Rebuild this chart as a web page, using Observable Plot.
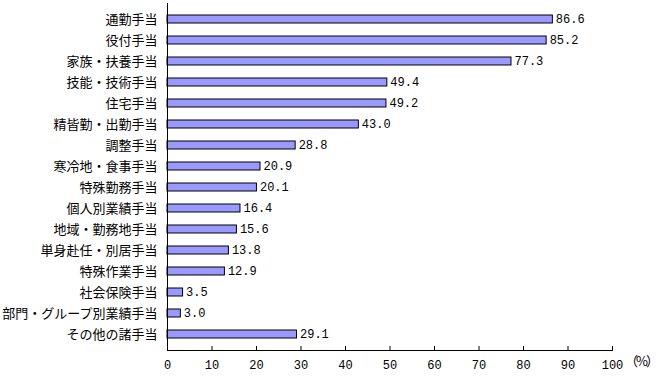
<!DOCTYPE html>
<html><head><meta charset="utf-8">
<script src="https://cdn.jsdelivr.net/npm/d3@7"></script>
<script src="https://cdn.jsdelivr.net/npm/@observablehq/plot@0.6"></script>
<style>body{margin:0;background:#fff;} #chart{position:relative;width:665px;height:376px;overflow:hidden;}
#unit{position:absolute;left:625px;top:351px;font:13px "Noto Sans CJK JP";letter-spacing:-2px;white-space:nowrap;}</style>
</head><body><div id="chart"></div>
<script>
const categories = ["通勤手当","役付手当","家族・扶養手当","技能・技術手当","住宅手当","精皆勤・出勤手当","調整手当","寒冷地・食事手当","特殊勤務手当","個人別業績手当","地域・勤務地手当","単身赴任・別居手当","特殊作業手当","社会保険手当","部門・グループ別業績手当","その他の諸手当"];
const values = [86.6,85.2,77.3,49.4,49.2,43.0,28.8,20.9,20.1,16.4,15.6,13.8,12.9,3.5,3.0,29.1];
const xTicks = [0,10,20,30,40,50,60,70,80,90,100];
const data = categories.map((c,i)=>({c, v: values[i]}));
const H = 376, mt = 3, mb = 26;
const plot = Plot.plot({
  width: 665, height: H,
  marginLeft: 167, marginRight: 53, marginTop: mt, marginBottom: mb,
  style: {fontFamily: "'Noto Sans CJK JP'", fontSize: "13px", background: "#fff", color: "#000"},
  x: {domain: [0,100], ticks: xTicks, label: null},
  y: {domain: categories, paddingInner: 0.62, paddingOuter: 0.32, label: null},
  marks: [
    Plot.barX(data, {x: "v", y: "c", fill: "#9999ff", stroke: "#000", strokeWidth: 1}),
    Plot.text(data, {x: "v", y: "c", text: d => d.v.toFixed(1), textAnchor: "start", dx: 3, fontFamily: "Liberation Mono", fontSize: 12}),
    Plot.tickX(xTicks, {x: d => d, stroke: "#000", insetTop: H - mt - mb - 4}),
    Plot.ruleX([0], {stroke: "#000"}),
    Plot.frame({anchor: "bottom", stroke: "#000"}),
    Plot.axisX({ticks: xTicks, tickSize: 0, tickPadding: 10, tickFormat: d => d, fontFamily: "Liberation Mono", fontSize: 12, label: null}),
    Plot.axisY({tickSize: 0, tickPadding: 10, fontSize: 13, label: null})
  ]
});
document.getElementById("chart").appendChild(plot);
const u = document.createElement("div"); u.id = "unit"; u.textContent = "（%）";
document.getElementById("chart").appendChild(u);
</script></body></html>
